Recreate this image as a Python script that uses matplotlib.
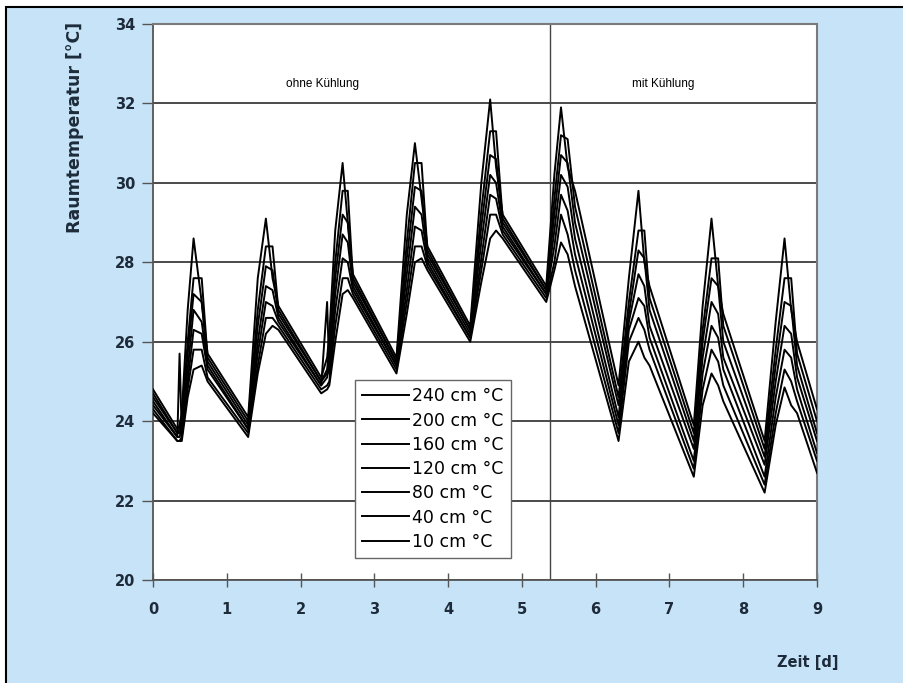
import matplotlib
matplotlib.use("Agg")
import matplotlib.pyplot as plt
from matplotlib.patches import Rectangle

# time axis [d], shared by all sensor heights
t = [0.00, 0.33, 0.36, 0.39, 0.47, 0.55, 0.66, 0.74,
     1.29, 1.42, 1.53, 1.62, 1.70,
     2.28, 2.36, 2.39, 2.47, 2.57, 2.64, 2.71,
     3.30, 3.44, 3.55, 3.64, 3.72,
     4.30, 4.45, 4.57, 4.65, 4.74,
     5.33, 5.44, 5.53, 5.62, 5.72,
     6.31, 6.45, 6.58, 6.66, 6.73,
     7.33, 7.45, 7.57, 7.66, 7.73,
     8.29, 8.44, 8.56, 8.65, 8.73,
     9.00]

# room temperature [°C] per sensor height
s240 = [24.8, 23.8, 23.9, 24.2, 26.8, 28.6, 27.0, 25.7,
        24.1, 27.6, 29.1, 27.6, 26.9,
        25.1, 25.6, 26.2, 28.8, 30.5, 29.0, 27.7,
        25.6, 29.2, 31.0, 29.6, 28.4,
        26.4, 30.0, 32.1, 30.4, 29.2,
        27.4, 30.2, 31.9, 30.4, 29.8,
        24.9, 27.6, 29.8, 28.0, 27.4,
        23.9, 26.9, 29.1, 27.4, 26.7,
        23.5, 26.5, 28.6, 26.8, 26.0,
        24.3]
s200 = [24.7, 23.7, 23.8, 24.0, 26.0, 27.6, 27.6, 25.6,
        24.0, 26.8, 28.4, 28.4, 26.8,
        25.0, 25.3, 25.9, 28.0, 29.8, 29.8, 27.6,
        25.5, 28.5, 30.5, 30.5, 28.3,
        26.3, 29.3, 31.3, 31.3, 29.1,
        27.3, 29.6, 31.2, 31.1, 29.4,
        24.6, 27.0, 28.8, 28.8, 27.1,
        23.7, 26.3, 28.1, 28.1, 26.4,
        23.3, 25.8, 27.6, 27.6, 25.7,
        24.0]
s160 = [24.6, 23.7, 23.7, 23.9, 25.7, 27.2, 27.0, 25.5,
        23.9, 26.4, 27.9, 27.8, 26.7,
        25.0, 25.2, 25.6, 27.6, 29.2, 29.0, 27.5,
        25.5, 28.1, 29.9, 29.8, 28.2,
        26.3, 28.9, 30.7, 30.6, 29.0,
        27.3, 29.2, 30.7, 30.5, 29.0,
        24.4, 26.7, 28.3, 28.1, 26.8,
        23.5, 26.0, 27.6, 27.4, 26.0,
        23.1, 25.4, 27.0, 26.9, 25.4,
        23.7]
s120 = [24.5, 23.6, 23.6, 23.8, 25.3, 26.8, 26.5, 25.4,
        23.8, 26.0, 27.4, 27.3, 26.6,
        24.9, 25.1, 25.4, 27.2, 28.7, 28.5, 27.4,
        25.4, 27.7, 29.4, 29.2, 28.1,
        26.2, 28.5, 30.2, 30.0, 28.9,
        27.2, 28.8, 30.2, 29.9, 28.6,
        24.1, 26.5, 27.7, 27.4, 26.4,
        23.3, 25.6, 27.0, 26.7, 25.6,
        22.9, 25.0, 26.4, 26.2, 25.1,
        23.5]
s80 = [24.4, 23.6, 25.7, 23.7, 25.0, 26.3, 26.2, 25.3,
       23.8, 25.7, 27.0, 26.9, 26.5,
       24.9, 27.0, 25.2, 26.8, 28.1, 28.0, 27.3,
       25.4, 27.3, 28.9, 28.8, 28.0,
       26.1, 28.1, 29.7, 29.6, 28.8,
       27.2, 28.4, 29.7, 29.3, 28.2,
       23.9, 26.3, 27.1, 26.9, 26.1,
       23.0, 25.2, 26.4, 26.1, 25.3,
       22.6, 24.6, 25.8, 25.6, 24.8,
       23.2]
s40 = [24.3, 23.5, 23.5, 23.6, 24.8, 25.8, 25.8, 25.1,
       23.7, 25.4, 26.6, 26.6, 26.4,
       24.8, 24.9, 25.0, 26.4, 27.6, 27.6, 27.2,
       25.3, 27.0, 28.4, 28.4, 27.9,
       26.1, 27.8, 29.2, 29.2, 28.7,
       27.1, 28.0, 29.2, 28.7, 27.8,
       23.7, 26.0, 26.6, 26.3, 25.8,
       22.8, 24.8, 25.8, 25.5, 24.9,
       22.4, 24.2, 25.3, 25.0, 24.5,
       23.0]
s10 = [24.2, 23.5, 23.5, 23.5, 24.6, 25.3, 25.4, 25.0,
       23.6, 25.2, 26.2, 26.4, 26.3,
       24.7, 24.8, 24.9, 26.0, 27.2, 27.3, 27.1,
       25.2, 26.7, 28.0, 28.1, 27.8,
       26.0, 27.5, 28.6, 28.8, 28.6,
       27.0, 27.8, 28.5, 28.2, 27.4,
       23.5, 25.5, 26.0, 25.6, 25.4,
       22.6, 24.4, 25.2, 24.9, 24.5,
       22.2, 23.9, 24.85, 24.4, 24.2,
       22.7]

series = [s240, s200, s160, s120, s80, s40, s10]
labels = ['240 cm °C', '200 cm °C', '160 cm °C', '120 cm °C',
          '80 cm °C', '40 cm °C', '10 cm °C']
yticks = [20, 22, 24, 26, 28, 30, 32, 34]
xticks = [0, 1, 2, 3, 4, 5, 6, 7, 8, 9]
t_switch = 5.38

bg = '#c7e3f7'
txt = '#1d2b3a'

fig = plt.figure(figsize=(9.04, 6.83), dpi=100, facecolor='white')
fig.patches.append(Rectangle((6 / 904, -0.01), 1.0, 1 - 7 / 683 + 0.01,
                             transform=fig.transFigure, facecolor=bg,
                             edgecolor='black', lw=1.5, zorder=-10))

ax = fig.add_axes([153 / 904, 103 / 683, 664 / 904, 556 / 683])
ax.set_facecolor('white')

for y, lab in zip(series, labels):
    ax.plot(t, y, color='black', lw=1.4, label=lab, zorder=3)

ax.axvline(t_switch, color='#444444', lw=1.0, zorder=2)

ax.set_xlim(0, 9)
ax.set_ylim(20, 34)
ax.set_xticks(xticks)
ax.set_yticks(yticks)
ax.yaxis.grid(True, color='#3c3c3c', lw=1.3, zorder=1)
ax.set_axisbelow(True)

for side in ['left', 'bottom']:
    ax.spines[side].set_color('#555555')
    ax.spines[side].set_linewidth(1.3)
for side in ['top', 'right']:
    ax.spines[side].set_color('#7a7a7a')
    ax.spines[side].set_linewidth(1.5)

ax.tick_params(axis='y', direction='out', length=8, width=1, color='#555555',
               labelcolor=txt, labelsize=10.5, pad=5)
ax.tick_params(axis='x', direction='inout', length=10, width=1, color='#555555',
               labelcolor=txt, labelsize=10.5, pad=11)
for lab in ax.get_xticklabels() + ax.get_yticklabels():
    lab.set_fontweight('bold')
    lab.set_family('DejaVu Sans')

ax.text(2.3, 32.5, 'ohne Kühlung', ha='center', va='center', fontsize=8.5,
        family='Liberation Sans')
ax.text(6.91, 32.5, 'mit Kühlung', ha='center', va='center', fontsize=8.5,
        family='Liberation Sans')

leg = ax.legend(loc='lower left', bbox_to_anchor=(0.304, 0.04), borderaxespad=0,
                fancybox=False, framealpha=1, edgecolor='#666666',
                prop={'family': 'DejaVu Sans', 'size': 12.5},
                handlelength=2.7, handletextpad=0.2, labelspacing=0.36,
                borderpad=0.4)
leg.get_frame().set_linewidth(1.0)

fig.text(75 / 904, 1 - 22 / 683, 'Raumtemperatur [°C]', rotation=90,
         ha='center', va='top', fontsize=12.5, fontweight='bold', color=txt,
         family='DejaVu Sans')
fig.text(839 / 904, 1 - 662 / 683, 'Zeit [d]', ha='right', va='center',
         fontsize=10.5, fontweight='bold', color=txt, family='DejaVu Sans')

fig.savefig('out.png', dpi=100, facecolor=fig.get_facecolor())
